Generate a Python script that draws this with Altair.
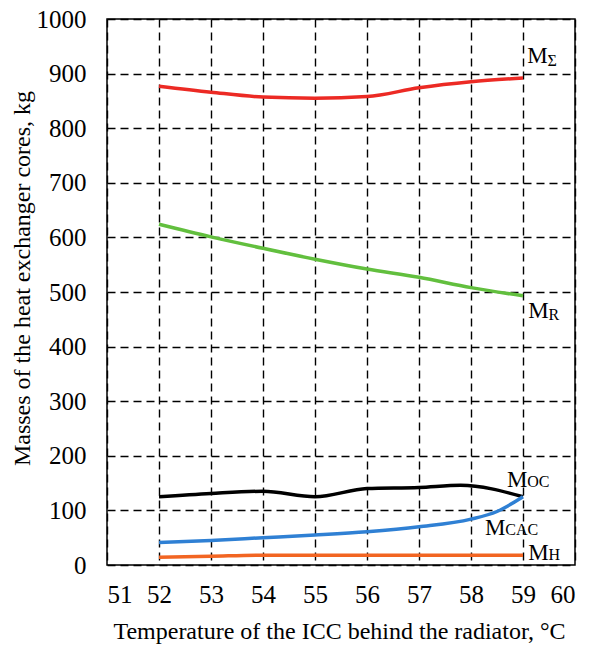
import altair as alt
import pandas as pd

# ---- data ----
sigma_x = [52, 53, 54, 55, 56, 57, 58, 59]
sigma_y = [877, 866, 857, 855, 858, 874, 885, 892]

r_x = [52, 53, 54, 55, 56, 57, 58, 59]
r_y = [624, 601, 580, 560, 542, 527, 508, 493]

oc_x = [52, 53, 54, 55, 56, 57, 57.8, 59]
oc_y = [125, 131, 135, 125, 140, 142, 146, 125]

cac_x = [52, 53, 54, 55, 56, 57, 58, 58.5, 59]
cac_y = [41, 45, 50, 55, 61, 70, 84, 98, 125]

h_x = [52, 53, 54, 55, 56, 57, 58, 59]
h_y = [14, 16, 18, 18, 18, 18, 18, 18]

series_names = ["MΣ", "MR", "MOC", "MCAC", "MH"]
series_colors = ["#ec2a24", "#62bf3e", "#000000", "#2f80d4", "#f26522"]

# label annotations (main letter + subscript), positions in data units
lab_main = ["M", "M", "M", "M", "M"]
lab_main_x = [59.08, 59.10, 58.69, 58.27, 59.10]
lab_main_y = [919, 452, 143, 55, 9]
lab_sub = ["Σ", "R", "OC", "CAC", "H"]
lab_sub_x = [59.47, 59.49, 59.08, 58.66, 59.49]
lab_sub_y = [914, 449, 143, 55, 9]

x_ticks = [51, 52, 53, 54, 55, 56, 57, 58, 59, 60]
y_ticks = [0, 100, 200, 300, 400, 500, 600, 700, 800, 900, 1000]

rows = []
for name, xs, ys in zip(series_names,
                        [sigma_x, r_x, oc_x, cac_x, h_x],
                        [sigma_y, r_y, oc_y, cac_y, h_y]):
    for xv, yv in zip(xs, ys):
        rows.append({"series": name, "t": xv, "m": yv})
df = pd.DataFrame(rows)

labels = pd.DataFrame({
    "main": lab_main, "mx": lab_main_x, "my": lab_main_y,
    "sub": lab_sub, "sx": lab_sub_x, "sy": lab_sub_y,
})

FONT = "Liberation Serif"

xscale = alt.Scale(domain=[51, 60], nice=False, zero=False)
yscale = alt.Scale(domain=[0, 1000], nice=False)

lines = alt.Chart(df).mark_line(strokeWidth=3.5, interpolate="monotone").encode(
    x=alt.X("t:Q", scale=xscale,
            axis=alt.Axis(values=x_ticks, format="d",
                          title="Temperature of the ICC behind the radiator, °C",
                          titleX=232, titleY=73, titleBaseline="alphabetic", titleAlign="center",
                          labelPadding=17, labelFont=FONT, labelFontSize=25)),
    y=alt.Y("m:Q", scale=yscale,
            axis=alt.Axis(values=y_ticks, format="d",
                          title="Masses of the heat exchanger cores, kg",
                          titleX=-85, titleY=259, titleBaseline="middle", titleAlign="center",
                          titleAngle=-90, labelPadding=21, labelFont=FONT, labelFontSize=25)),
    color=alt.Color("series:N", scale=alt.Scale(domain=series_names, range=series_colors), legend=None),
    detail="series:N",
)

main_txt = alt.Chart(labels).mark_text(
    font=FONT, fontSize=23, align="left", baseline="alphabetic", color="black"
).encode(x=alt.X("mx:Q", scale=xscale), y=alt.Y("my:Q", scale=yscale), text="main:N")

sub_txt = alt.Chart(labels).mark_text(
    font=FONT, fontSize=16, align="left", baseline="alphabetic", color="black"
).encode(x=alt.X("sx:Q", scale=xscale), y=alt.Y("sy:Q", scale=yscale), text="sub:N")

chart = alt.layer(lines, main_txt, sub_txt).properties(
    width=468, height=546,
    autosize=alt.AutoSizeParams(type="none"),
    padding={"left": 107, "top": 19, "right": 14, "bottom": 80},
    background="white",
).configure_axis(
    labelFont=FONT, labelFontSize=25, labelColor="black",
    titleFont=FONT, titleFontSize=24, titleFontWeight="normal", titleColor="black",
    domain=False, ticks=False,
    grid=True, gridColor="black", gridDash=[8, 5], gridWidth=1.4, gridOpacity=1,
).configure_view(
    stroke="black", strokeWidth=1.5,
)

chart.save("out.html", embed_options={"renderer": "svg", "actions": False})
